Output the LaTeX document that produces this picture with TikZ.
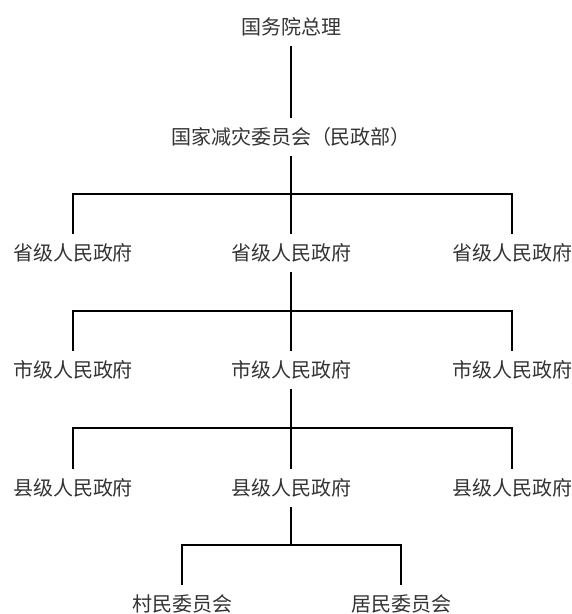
\documentclass[tikz,border=0pt]{standalone}
\usepackage{fontspec}
\setmainfont{Noto Sans CJK SC}
\begin{document}
\begin{tikzpicture}[x=1pt,y=-1pt,
  lbl/.style={inner sep=0pt,minimum height=38pt,font=\fontsize{20}{22}\selectfont,text=black!80},
  conn/.style={draw=black,line width=2.3pt,line cap=butt,line join=miter}]
\useasboundingbox (0,0) rectangle (572,614);
% nodes
\node[lbl] (pm) at (291,27) {国务院总理};
\node[lbl] (nc) at (291,137) {国家减灾委员会（民政部）};
\node[lbl] (s1) at (73,253) {省级人民政府};
\node[lbl] (s2) at (291,253) {省级人民政府};
\node[lbl] (s3) at (512,253) {省级人民政府};
\node[lbl] (c1) at (73,370) {市级人民政府};
\node[lbl] (c2) at (291,370) {市级人民政府};
\node[lbl] (c3) at (512,370) {市级人民政府};
\node[lbl] (x1) at (73,488) {县级人民政府};
\node[lbl] (x2) at (291,488) {县级人民政府};
\node[lbl] (x3) at (512,488) {县级人民政府};
\node[lbl] (v1) at (182,604) {村民委员会};
\node[lbl] (v2) at (401,604) {居民委员会};
% bus junctions
\coordinate (b1) at (291,194);
\coordinate (b2) at (291,311);
\coordinate (b3) at (291,428);
\coordinate (b4) at (291,545);
% connectors
\draw[conn] (pm.south) -- (nc.north);
\draw[conn] (nc.south) -- (s2.north);
\draw[conn] (s1.north) |- (b1) -| (s3.north);
\draw[conn] (s2.south) -- (c2.north);
\draw[conn] (c1.north) |- (b2) -| (c3.north);
\draw[conn] (c2.south) -- (x2.north);
\draw[conn] (x1.north) |- (b3) -| (x3.north);
\draw[conn] (x2.south) -- (b4);
\draw[conn] (v1.north) |- (b4) -| (v2.north);
\end{tikzpicture}
\end{document}
